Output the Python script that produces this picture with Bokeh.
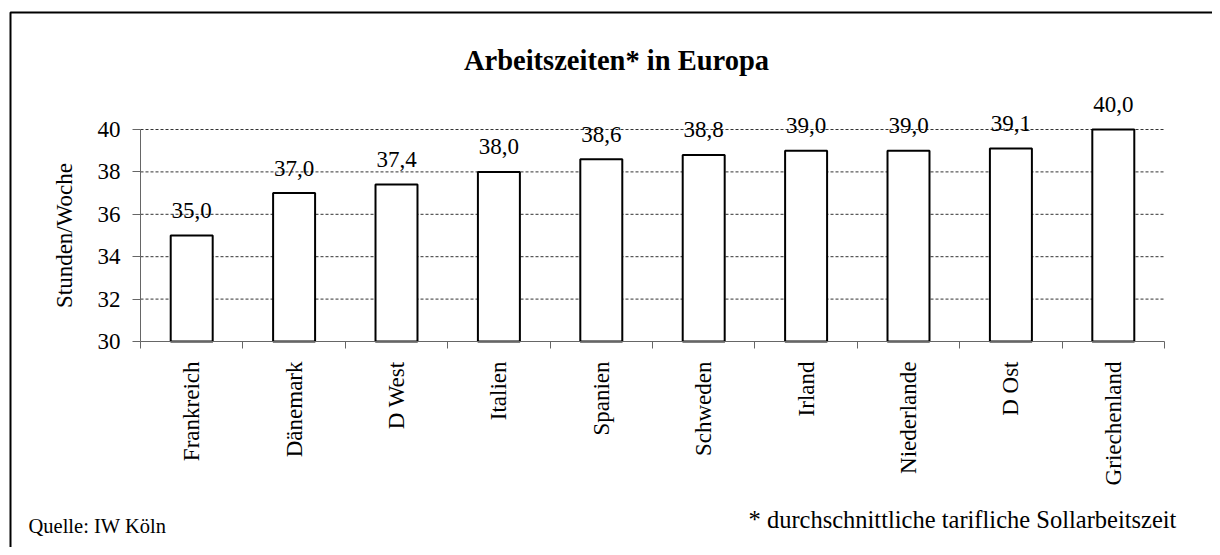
import math
from bokeh.plotting import figure
from bokeh.models import Range1d, FixedTicker, LinearAxis, Label, ColumnDataSource, BoxAnnotation
from bokeh.embed import file_html
from bokeh.resources import INLINE
from bokeh.core.properties import value

# ---- data ----
title_text = "Arbeitszeiten* in Europa"
y_label = "Stunden/Woche"
source_note = "Quelle: IW Köln"
footnote = "* durchschnittliche tarifliche Sollarbeitszeit"

countries = ["Frankreich", "Dänemark", "D West", "Italien", "Spanien",
             "Schweden", "Irland", "Niederlande", "D Ost", "Griechenland"]
hours = [35.0, 37.0, 37.4, 38.0, 38.6, 38.8, 39.0, 39.0, 39.1, 40.0]
y_ticks = [30, 32, 34, 36, 38, 40]
grid_ticks = [32, 34, 36, 38, 40]

# ---- layout (canvas pixel geometry) ----
FONT = "Liberation Serif"
W, H = 1212, 547
AX_LEFT, AX_RIGHT = 140, 1164      # px of x=0 and x=10
Y30, Y40 = 341, 129                 # px of y=30 and y=40
Y_MIN, Y_MAX = 30, 40
ppu_y = (Y30 - Y40) / float(Y_MAX - Y_MIN)
ppu_x = (AX_RIGHT - AX_LEFT) / float(len(countries))


def dx(px):
    return (px - AX_LEFT) / ppu_x


def dy(py):
    return Y_MIN + (Y30 - py) / ppu_y


centers = [i + 0.5 for i in range(len(countries))]
bounds_ticks = list(range(len(countries) + 1))
labels = [f"{v:.1f}".replace(".", ",") for v in hours]

src = ColumnDataSource(dict(x=centers, top=hours, label=labels))

p = figure(width=W, height=H, output_backend="svg", toolbar_location=None,
           x_range=Range1d(dx(0), dx(W)), y_range=Range1d(dy(H), dy(0)),
           x_axis_type=None, y_axis_type=None,
           min_border=0, min_border_left=0, min_border_right=0,
           min_border_top=0, min_border_bottom=0)
p.outline_line_color = None
p.background_fill_color = "white"
p.border_fill_color = "white"

AX = "#666666"
yaxis = LinearAxis(ticker=FixedTicker(ticks=y_ticks), bounds=(Y_MIN, Y_MAX), fixed_location=0)
yaxis.axis_line_color = AX
yaxis.major_tick_line_color = AX
yaxis.major_tick_out = 8
yaxis.major_tick_in = 0
yaxis.minor_tick_line_color = None
yaxis.major_label_standoff = 12
yaxis.major_label_text_font = FONT
yaxis.major_label_text_font_size = "23px"
yaxis.major_label_text_color = "black"
p.add_layout(yaxis, "left")

xaxis = LinearAxis(ticker=FixedTicker(ticks=centers, minor_ticks=bounds_ticks),
                   major_label_overrides={c: n for c, n in zip(centers, countries)},
                   bounds=(0, len(countries)), fixed_location=Y_MIN)
xaxis.axis_line_color = AX
xaxis.major_tick_out = 0
xaxis.major_tick_in = 0
xaxis.major_tick_line_color = None
xaxis.minor_tick_out = 7
xaxis.minor_tick_in = 0
xaxis.minor_tick_line_color = AX
xaxis.major_label_orientation = math.pi / 2
xaxis.major_label_standoff = 13
xaxis.major_label_text_font = FONT
xaxis.major_label_text_font_size = "23px"
xaxis.major_label_text_color = "black"
p.add_layout(xaxis, "below")

# dashed horizontal grid lines across the category span
p.segment(x0=[0] * len(grid_ticks), x1=[len(countries)] * len(grid_ticks),
          y0=grid_ticks, y1=grid_ticks, line_color="#333333", line_dash="3 2", line_width=1)

p.vbar(x="x", top="top", bottom=Y_MIN, width=0.41, source=src,
       fill_color="white", line_color="black", line_width=2)

p.text(x="x", y="top", text="label", source=src, text_align="center",
       text_baseline="alphabetic", y_offset=-25, text_font=value(FONT),
       text_font_size="23px", text_color="black")

# outer frame of the chart (its right and bottom edges lie outside the window)
p.add_layout(BoxAnnotation(left=dx(10), right=dx(1260), top=dy(12), bottom=dy(600),
                           fill_color=None, fill_alpha=0, line_color="black",
                           line_alpha=1.0, line_width=2))

p.add_layout(Label(x=dx(616), y=dy(60), text=title_text,
                   text_align="center", text_baseline="alphabetic", text_font=FONT,
                   text_font_size="28.5px", text_font_style="bold", text_color="black"))
p.add_layout(Label(x=dx(64), y=dy(235), text=y_label,
                   angle=math.pi / 2, text_align="center", text_baseline="middle",
                   text_font=FONT, text_font_size="23px", text_color="black"))
p.add_layout(Label(x=dx(748), y=dy(519), text=footnote,
                   text_align="left", text_baseline="alphabetic", text_font=FONT,
                   text_font_size="24.5px", text_color="black"))
p.add_layout(Label(x=dx(28), y=dy(525), text=source_note,
                   text_align="left", text_baseline="alphabetic", text_font=FONT,
                   text_font_size="20.5px", text_color="black"))

open("out.html", "w").write(file_html(p, INLINE))
